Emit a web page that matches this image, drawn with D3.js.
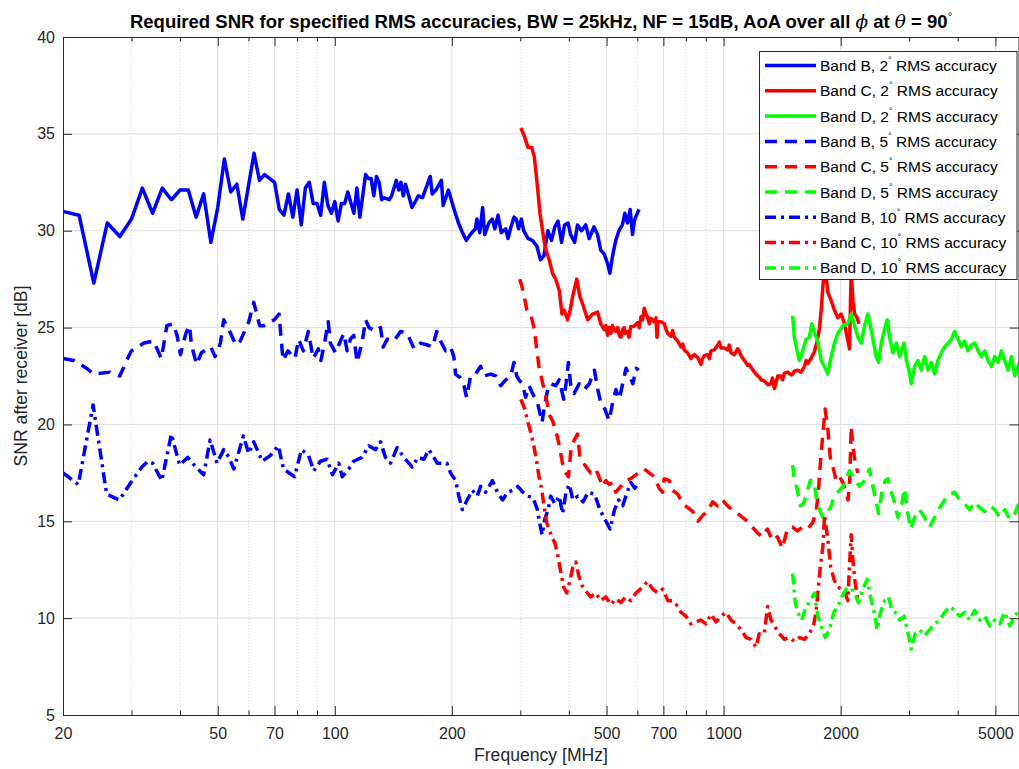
<!DOCTYPE html>
<html>
<head>
<meta charset="utf-8">
<script src="https://cdnjs.cloudflare.com/ajax/libs/d3/7.8.5/d3.min.js"></script>
<style>
  body { margin: 0; background: #fff; }
  svg { display: block; font-family: "Liberation Sans", Arial, Helvetica, sans-serif; }
</style>
</head>
<body>
<svg id="chart"></svg>
<script>
// Band B (blue), frequencies in MHz, SNR in dB
const bandB_f2 = [20,22,24,26,28,30,32,34,36,38,40,42,44,46,48,50,52,54,56,58,62,64,66,70,72,74,76,78,80,82,84,86,88,90,92,94,96,98,100,102,104,106,108,112,114,116,120,122,124,126,128,130,132,134,138,140,144,146,148,150,152,158,164,168,176,178,182,188,190,196,
  202,208,213,218,223,230,232,236,240,243,249,254,258,263,268,275,279,283,289,293,297,302,306,314,322,331,338,345,353,361,368,375,383,390,398,404,414,421,431,442,451,464,474,483,493,503,510,518,528,538,549,557,566,575,583,591,606]
const bandB_snr2 = [31.0,30.8,27.3,30.4,29.7,30.6,32.2,30.9,32.2,31.6,32.1,32.1,30.7,31.9,29.4,31.2,33.7,32.0,32.4,30.6,34.0,32.6,32.9,32.5,31.1,30.8,31.9,30.7,32.1,30.3,32.2,32.5,31.4,31.4,30.8,32.5,31.3,30.9,31.5,30.5,31.4,31.4,32.0,30.9,32.2,30.7,32.9,32.7,32.7,31.8,32.8,32.5,31.6,31.7,31.6,31.8,32.6,32.1,32.5,31.8,32.4,31.2,31.8,31.7,32.8,31.9,32.1,32.6,31.3,32.1,
  31.2,30.4,29.9,29.5,29.8,30.1,30.6,29.9,31.2,29.8,30.4,30.6,30.1,30.8,29.9,30.1,29.6,30.1,30.7,30.6,30.1,30.6,30.0,29.6,29.5,29.2,28.5,28.7,30.0,29.5,30.2,30.5,29.4,30.3,30.4,29.8,29.4,30.3,30.0,30.3,29.6,30.2,29.8,29.0,28.8,28.3,27.8,28.7,29.5,30.0,30.3,30.9,30.4,31.1,29.8,30.6,31.1]
const bandB_f5 = [20,21.3,23,24,26.4,28,29,30,32.3,34.2,35.8,37,38.4,39.3,40.1,41.4,42.3,42.8,44.1,45.4,48,49.2,50.8,51.8,53.4,55.7,57.1,60.1,61.9,64.1,65.7,69.9,71.9,73.6,75.8,79,80.7,83,85.5,88,90.7,92.1,94.3,96.2,97.4,100.4,103.4,105.5,107.6,109.7,111.9,114.1,117.7,120,122.4,127.3,131.1,133.2,136.4,141.9,147.6,153.6,159.9,166.2,173,178.4,182.9,187.1,192.7,198.5,
  202.4,204.5,210.7,214.9,218.3,223.5,230.2,237.2,241.9,251.7,259.4,267.1,275.2,283.4,289,293.6,297.6,303.7,309.7,315.9,322.5,332.4,341.2,347.4,354.4,359.2,370.2,377.6,388,393.3,398.8,404.5,412.6,425.2,438.2,451.6,465.3,474.8,483.2,494.8,507.6,518.1,528.4,539,550.1,561.1,572.5,584.3,595.9,604.2]
const bandB_snr5 = [23.4,23.3,22.9,22.6,22.7,22.5,23.2,23.8,24.2,24.3,23.4,25.1,25.2,24.6,23.6,24.7,25.1,24.1,23.1,23.7,24.0,23.5,24.2,25.4,24.9,24.1,24.3,25.3,26.3,25.1,25.1,25.4,25.7,23.3,23.8,23.4,24.4,23.8,24.8,23.4,23.9,23.3,24.3,25.3,24.2,23.7,24.3,24.7,23.8,24.4,24.6,23.2,24.3,25.4,25.0,24.8,25.0,24.0,24.4,24.3,24.8,24.7,23.9,24.2,24.1,24.0,24.8,24.3,23.8,24.0,
  23.5,22.6,22.4,22.0,21.4,22.5,22.6,23.0,22.5,22.6,22.5,22.0,22.3,22.5,23.2,22.5,22.3,22.1,21.4,22.0,21.6,21.1,20.1,21.1,22.0,22.1,22.0,22.3,21.3,22.1,23.2,22.0,21.6,22.1,21.8,22.1,22.8,21.8,21.1,20.8,20.2,21.1,21.8,21.3,22.1,22.9,22.5,22.1,22.9,22.8]
const bandB_f10 = [20,21.9,23.9,25.9,27.9,29.9,31.9,33.1,34,35.9,38,39.9,41.9,43.5,46,47.8,49.8,51.8,53.4,55,58.2,60.1,61.9,65.1,68.3,71.6,73.8,78.8,82.1,85.6,88.3,91.8,95.5,98.6,102.4,104.5,108.6,111.9,117.5,122.3,127.3,131.1,135,139.1,144.7,150.5,158.2,163.6,169.5,174.5,179.8,183.4,187.1,194.2,198.5,
  204.5,208.5,212.8,219.1,225.7,232.5,237.2,244.4,254.3,262,270.1,278.3,286.8,295.6,304.6,313.9,323.6,332,336.6,341.4,346.7,353.7,359.2,368,377.6,385.4,393.3,401.2,409.5,422,434.9,448.2,466.1,480.4,495.2,510.5,524.3,537.1,550.3,564.9,577.4,591.4,602.9]
const bandB_snr10 = [17.5,16.9,21.0,16.4,16.1,17.0,17.8,18.1,18.0,17.1,19.5,17.9,18.3,17.9,17.4,19.2,18.0,18.7,18.3,17.7,19.4,18.5,19.1,18.1,18.4,18.9,17.7,17.3,18.7,18.4,17.6,18.1,18.2,17.4,18.0,17.3,17.7,18.1,18.3,18.9,18.7,19.1,18.3,18.0,18.8,18.3,17.8,18.3,18.2,18.7,18.3,18.0,18.0,18.0,17.5,
  17.1,16.3,15.6,16.1,16.6,16.3,16.8,16.5,17.1,16.5,16.1,16.5,16.6,16.8,16.5,16.3,16.2,15.6,14.9,14.3,15.1,15.6,16.3,15.9,16.3,15.4,16.5,16.9,16.1,16.3,16.0,16.5,16.4,15.6,15.1,14.6,15.6,16.1,15.8,16.5,17.0,16.7,17.0]

// Band C (red)
const bandC_f2 = [301,307,314,321,326,332,337,344,349,356,363,370,378,384,389,397,403,409,419,427,436,447,460,474,
  483,493,498,503,508,513,518,523,528,534,539,544,550,555,557,566,571,577,587,601,607,613,619,625,631,637,644,650,663,670,674,678,690,704,711,718,732,739,747,762,777,785,792,808,824,833,841,858,874,883,892,910,919,928,946,966,975,985,
  1004,1025,1034,1045,1066,1087,1097,1109,1131,1153,1164,1176,1200,1224,1235,1248,1273,1299,1324,1335,1351,1378,1405,1418,1433,1462,1491,1505,1521,1552,1582,1614,1630,1646,1672,1712,1740,1763,1782,1800,1818,1855,1890,1928,1966,2006,2046,2078,2107,2129,2150,2172,2206,2229]
const bandC_snr2 = [35.3,34.9,34.3,34.3,33.8,32.3,30.9,29.7,29.0,28.5,27.8,27.5,26.9,25.7,25.9,25.4,25.9,26.6,27.5,26.6,26.1,25.4,25.7,25.8,
  25.2,24.9,25.1,24.6,25.0,24.7,25.1,24.9,24.8,25.0,24.6,24.5,24.9,25.0,24.7,24.8,24.5,25.05,25.05,25.25,25.0,25.56,25.4,26.0,25.7,25.56,25.2,25.48,25.3,25.5,24.5,25.3,25.3,25.2,24.9,24.7,24.55,24.85,24.5,24.3,24.0,24.15,23.85,23.7,23.4,23.55,23.6,23.45,23.1,23.4,23.55,23.6,23.4,23.8,23.85,24.1,24.25,23.95,
  23.95,23.85,24.1,23.7,23.6,23.9,23.8,23.55,23.3,23.05,23.1,22.95,22.7,22.5,22.45,22.3,22.25,22.05,22.1,22.4,21.85,22.5,22.5,22.3,22.65,22.7,22.55,22.6,22.75,22.8,22.7,23.0,23.3,23.15,23.35,23.75,24.3,24.9,25.9,27.1,28.3,26.8,26.4,25.9,25.5,25.7,25.2,24.5,23.9,28.0,26.4,25.7,25.5,25.2]
const bandC_f5 = [299,304,312,319,326,331,335,341,347,352,356,363,370,378,385,393,399,405,413,421,427,436,447,455,469,478,488,498,508,518,528,544,560,577,595,613,625,644,663,683,697,703,725,739,762,785,809,833,859,883,909,937,965,994,1023,1054,1086,1118,1151,1186,1221,1258,1296,1335,1375,1416,1459,1503,1548,1595,1643,1692,1726,1749,1770,1800,1824,1855,1880,1911,1948,1987,2027,2055,2089,2110,2129,2150,2180,2215]
const bandC_snr5 = [27.5,27.0,25.9,25.7,24.9,23.8,23.0,22.3,21.6,21.1,20.5,20.2,19.7,18.9,18.0,17.5,17.3,18.7,19.2,19.5,18.3,18.0,17.7,17.5,17.7,17.3,16.8,17.1,16.9,17.0,16.5,16.8,17.1,17.2,17.4,17.6,17.7,17.5,17.3,16.7,16.5,17.2,17.1,16.6,16.4,15.9,15.7,15.5,15.0,15.3,15.5,16.0,15.8,16.1,15.8,15.6,15.4,15.2,15.0,14.7,14.4,14.2,14.6,14.0,14.2,13.6,14.6,14.7,14.5,14.7,14.6,14.9,15.4,16.3,17.8,19.5,20.8,19.7,18.3,17.8,17.1,17.3,17.0,16.6,16.1,17.1,19.9,18.9,18.0,17.5]
const bandC_f10 = [301,308,314,320,325,331,335,341,345,351,356,361,368,374,381,388,395,402,409,417,424,432,442,455,469,483,498,513,528,544,560,577,595,619,637,657,677,697,719,741,763,777,800,824,849,874,901,928,956,985,1014,1045,1076,1109,1142,1176,1212,1235,1272,1298,1324,1350,1391,1433,1476,1521,1567,1614,1663,1706,1729,1753,1774,1800,1818,1855,1884,1922,1966,2014,2054,2087,2107,2129,2150,2180,2215]
const bandC_snr10 = [21.3,20.8,20.1,19.5,18.9,18.0,17.3,16.6,15.8,14.9,14.6,14.2,13.9,13.3,12.4,11.6,11.3,11.9,12.6,12.9,12.2,11.7,11.4,11.1,11.3,10.9,11.1,10.7,11.0,10.8,11.1,10.9,11.3,11.6,11.9,11.5,11.3,11.5,10.9,10.9,10.6,10.3,10.1,9.7,9.8,9.9,9.7,10.2,9.8,10.1,10.3,9.9,9.7,9.4,9.0,8.9,8.5,9.2,9.2,10.6,9.9,9.6,9.2,8.9,9.0,8.8,9.0,8.9,9.2,9.7,10.3,11.6,12.7,13.7,15.3,14.0,12.7,12.0,11.6,11.5,11.3,10.9,12.7,14.3,13.0,11.8,10.9]

// Band D (green)
const bandD_f2 = [1505,1520,1545,1566,1598,1630,1662,1686,1713,1747,1782,1817,1853,1890,1928,1966,2026,2088,2129,2171,2215,2259,2304,2350,2386,2421,2469,2503,2543,2594,2635,2672,2726,2780,2836,2911,2952,2999,3038,3099,3162,3224,3288,3355,3421,3489,3559,3630,3702,3777,3852,3928,4007,4087,4168,4252,4337,4423,4512,4602,4694,4787,4883,4980,5080,5182,5285,5391,5498,5608,5720,5794]
const bandD_snr2 = [25.6,24.5,23.8,23.3,23.8,24.4,24.5,25.2,24.7,24.3,23.3,23.0,22.6,23.5,24.2,24.7,25.1,25.2,25.7,25.1,24.5,24.2,25.1,25.7,25.1,24.4,23.5,23.2,24.2,24.9,25.4,24.5,23.7,24.2,23.5,24.2,23.3,22.8,22.1,23.0,23.3,22.8,23.5,22.8,23.2,22.6,23.3,23.7,24.0,24.2,24.4,24.8,24.4,24.0,24.3,23.8,24.1,24.2,23.8,23.5,23.8,23.3,23.0,23.5,23.2,23.8,23.3,22.8,23.5,22.5,23.0,23.3]
const bandD_f5 = [1505,1520,1545,1574,1606,1638,1671,1706,1729,1764,1800,1835,1882,1928,1986,2046,2107,2171,2236,2304,2373,2421,2469,2503,2553,2604,2646,2687,2741,2807,2874,2919,2966,3025,3099,3192,3288,3387,3489,3594,3702,3814,3928,4047,4168,4294,4423,4556,4694,4835,4980,5130,5285,5444,5608,5741]
const bandD_snr5 = [17.9,17.1,16.7,15.8,15.9,16.5,17.1,17.1,16.3,15.6,15.2,15.4,15.7,16.3,16.6,16.9,17.6,17.2,16.8,17.1,17.7,16.8,16.0,15.4,16.5,17.1,17.2,16.6,16.1,15.2,15.9,16.7,15.6,14.6,15.2,15.6,15.2,14.7,15.2,15.7,16.1,16.4,16.5,16.1,15.9,15.6,16.0,15.7,15.5,15.8,15.6,15.2,15.6,15.1,15.4,15.9]
const bandD_f10 = [1505,1526,1551,1588,1630,1673,1713,1747,1782,1824,1871,1921,1966,2014,2066,2119,2171,2223,2281,2341,2386,2434,2482,2532,2594,2656,2710,2764,2836,2911,2981,3038,3111,3192,3288,3387,3489,3594,3702,3814,3928,4047,4168,4294,4423,4556,4694,4835,4980,5130,5285,5444,5608,5741]
const bandD_snr10 = [12.3,10.9,10.3,9.9,10.6,10.9,11.3,10.1,9.6,9.0,9.4,10.3,10.6,11.1,11.5,11.6,11.3,10.8,11.5,12.0,11.1,10.4,9.4,10.3,10.9,11.1,10.4,10.3,9.9,10.1,9.2,8.4,9.2,9.4,9.1,9.4,9.7,9.9,10.3,10.6,10.4,10.1,10.3,9.9,10.4,9.9,10.1,9.6,9.9,9.7,10.3,9.6,10.1,10.4]

const xTicks = [20, 50, 70, 100, 200, 500, 700, 1000, 2000, 5000]
const xMinorTicks = [30, 40, 60, 80, 90, 300, 400, 600, 800, 900, 3000, 4000]
const yTicks = [5, 10, 15, 20, 25, 30, 35, 40]
const legendBands = ["Band B, ", "Band C, ", "Band D, "]
const legendAccuracies = ["2", "5", "10"]

const chart = {

  init: function () {
    const svg = d3.select("#chart")
      .attr("width", 1019)
      .attr("height", 769)

    this.internal = {
      svg,
      left: 63,
      right: 1018.5,
      top: 37,
      bottom: 715,
      x: d3.scaleLog().domain([20, 5750]).range([63, 1019]),
      y: d3.scaleLinear().domain([5, 40]).range([715, 37]),
      axisColor: "#262626",
      colors: ["#0000ff", "#ff0000", "#00ff00"],
      dashes: [null, "12,8", "11,5,3,5"],
      lineWidth: 3.5
    }

    // legend order: all bands at 2 deg, then 5 deg, then 10 deg
    this.internal.series = [
      [bandB_f2, bandB_snr2], [bandC_f2, bandC_snr2], [bandD_f2, bandD_snr2],
      [bandB_f5, bandB_snr5], [bandC_f5, bandC_snr5], [bandD_f5, bandD_snr5],
      [bandB_f10, bandB_snr10], [bandC_f10, bandC_snr10], [bandD_f10, bandD_snr10]
    ].map((s, i) => ({
      points: d3.zip(s[0], s[1]),
      color: this.internal.colors[i % 3],
      dash: this.internal.dashes[Math.floor(i / 3)],
      band: legendBands[i % 3],
      acc: legendAccuracies[Math.floor(i / 3)]
    }))

    this.drawGrid()
    this.drawLines()
    this.drawAxes()
    this.drawLegend()
    this.drawText()
  },

  drawGrid: function () {
    const { svg, x, y, top, bottom, left, right } = this.internal
    const g = svg.append("g").attr("class", "grid")

    g.selectAll("line.minor").data(xMinorTicks).enter().append("line")
      .attr("x1", d => x(d)).attr("x2", d => x(d))
      .attr("y1", top).attr("y2", bottom)
      .attr("stroke", "#c8c8c8").attr("stroke-width", 0.7)
      .attr("stroke-dasharray", "1,2")

    g.selectAll("line.xmajor").data(xTicks.slice(1)).enter().append("line")
      .attr("x1", d => x(d)).attr("x2", d => x(d))
      .attr("y1", top).attr("y2", bottom)
      .attr("stroke", "#dfdfdf").attr("stroke-width", 1)

    g.selectAll("line.ymajor").data(yTicks.slice(1, -1)).enter().append("line")
      .attr("x1", left).attr("x2", right)
      .attr("y1", d => y(d)).attr("y2", d => y(d))
      .attr("stroke", "#dfdfdf").attr("stroke-width", 1)
  },

  drawLines: function () {
    const { svg, x, y, series, left, top, right, bottom, lineWidth } = this.internal

    svg.append("clipPath").attr("id", "plotClip")
      .append("rect")
      .attr("x", left).attr("y", top)
      .attr("width", right - left).attr("height", bottom - top)

    const line = d3.line()
      .x(d => x(d[0]))
      .y(d => y(d[1]))

    svg.append("g")
      .attr("clip-path", "url(#plotClip)")
      .selectAll("path")
      .data(series)
      .enter().append("path")
      .attr("d", d => line(d.points))
      .attr("fill", "none")
      .attr("stroke", d => d.color)
      .attr("stroke-width", lineWidth)
      .attr("stroke-linejoin", "round")
      .attr("stroke-dasharray", d => d.dash)
  },

  drawAxes: function () {
    const { svg, x, y, top, bottom, left, right, axisColor } = this.internal
    const fmt = d3.format("d")

    const styleAxis = function (g) {
      g.selectAll("path, line").attr("stroke", axisColor)
      g.selectAll("text").attr("fill", axisColor).attr("font-size", 16)
        .attr("font-family", "Liberation Sans, Arial, sans-serif")
    }

    svg.append("g").attr("transform", `translate(0,${bottom})`)
      .call(d3.axisBottom(x).tickValues(xTicks).tickFormat(fmt).tickSizeInner(-9).tickSizeOuter(0).tickPadding(13))
      .call(styleAxis)
    svg.append("g").attr("transform", `translate(0,${bottom})`)
      .call(d3.axisBottom(x).tickValues(xMinorTicks).tickFormat("").tickSizeInner(-4.5).tickSizeOuter(0))
      .call(styleAxis)
    svg.append("g").attr("transform", `translate(0,${top})`)
      .call(d3.axisTop(x).tickValues(xTicks).tickFormat("").tickSizeInner(-9).tickSizeOuter(0))
      .call(styleAxis)
    svg.append("g").attr("transform", `translate(0,${top})`)
      .call(d3.axisTop(x).tickValues(xMinorTicks).tickFormat("").tickSizeInner(-4.5).tickSizeOuter(0))
      .call(styleAxis)
    svg.append("g").attr("transform", `translate(${left},0)`)
      .call(d3.axisLeft(y).tickValues(yTicks).tickFormat(fmt).tickSizeInner(-9).tickSizeOuter(0).tickPadding(8))
      .call(styleAxis)
    svg.append("g").attr("transform", `translate(${right},0)`)
      .call(d3.axisRight(y).tickValues(yTicks).tickFormat("").tickSizeInner(-9).tickSizeOuter(0))
      .call(styleAxis)
  },

  drawLegend: function () {
    const { svg, series, axisColor, lineWidth } = this.internal
    const lx = 759.5, ly = 51.5, rowH = 25.3

    const g = svg.append("g").attr("class", "legend")
    g.append("rect")
      .attr("x", lx).attr("y", ly)
      .attr("width", 257.5).attr("height", 228)
      .attr("fill", "#fff").attr("stroke", axisColor).attr("stroke-width", 1)

    const row = g.selectAll("g.row").data(series).enter().append("g")
      .attr("transform", (d, i) => `translate(0,${ly + 14 + i * rowH})`)

    row.append("line")
      .attr("x1", 765).attr("x2", 816)
      .attr("stroke", d => d.color).attr("stroke-width", lineWidth)
      .attr("stroke-dasharray", d => d.dash)

    const t = row.append("text")
      .attr("x", 820).attr("y", 5.5)
      .attr("font-size", 15.5).attr("fill", "#000")
    t.append("tspan").text(d => d.band + d.acc)
    t.append("tspan").attr("dy", -8).attr("font-size", 9).text("°")
    t.append("tspan").attr("dy", 8).text(" RMS accuracy")
  },

  drawText: function () {
    const { svg, left, top, bottom } = this.internal
    const cx = (left + 1019) / 2

    const title = svg.append("text")
      .attr("x", cx).attr("y", 28)
      .attr("text-anchor", "middle")
      .attr("font-size", 18.5).attr("font-weight", "bold").attr("fill", "#000")
    title.append("tspan").text("Required SNR for specified RMS accuracies, BW = 25kHz, NF = 15dB, AoA over all ")
    title.append("tspan").attr("font-style", "italic").attr("font-family", "DejaVu Serif, serif").attr("font-weight", "normal").text("ϕ")
    title.append("tspan").text(" at ")
    title.append("tspan").attr("font-style", "italic").attr("font-family", "DejaVu Serif, serif").attr("font-weight", "normal").text("θ")
    title.append("tspan").text(" = 90")
    title.append("tspan").attr("dy", -8).attr("font-size", 11).attr("font-weight", "normal").text("°")

    svg.append("text")
      .attr("x", cx).attr("y", 761)
      .attr("text-anchor", "middle")
      .attr("font-size", 17.6).attr("fill", "#262626")
      .text("Frequency [MHz]")

    svg.append("text")
      .attr("transform", `translate(27,${(top + bottom) / 2}) rotate(-90)`)
      .attr("text-anchor", "middle")
      .attr("font-size", 17.6).attr("fill", "#262626")
      .text("SNR after receiver [dB]")
  }
}

chart.init()
</script>
</body>
</html>
